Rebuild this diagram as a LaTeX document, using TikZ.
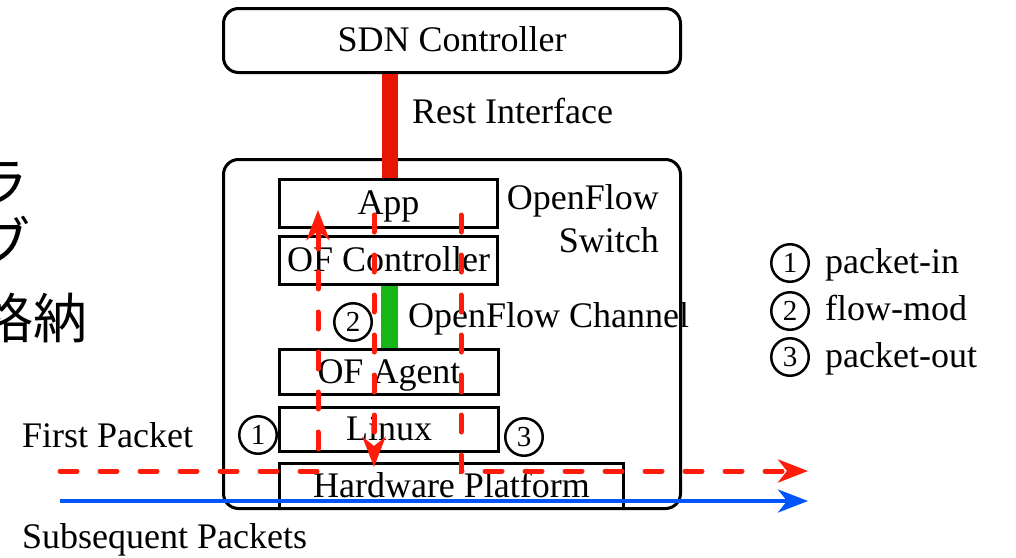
\documentclass[tikz,border=0pt]{standalone}
\usepackage{fontspec}
\setmainfont{Liberation Serif}
\newfontfamily\jpfont{Noto Sans CJK JP}
\usetikzlibrary{arrows.meta,calc}

\definecolor{restred}{RGB}{230,22,0}
\definecolor{pktred}{RGB}{255,28,10}
\definecolor{chgreen}{RGB}{22,182,22}
\definecolor{pktblue}{RGB}{0,85,255}

\tikzset{
  layer/.style={draw, line width=3pt, fill=white, inner sep=0pt,
    text height=26pt, text depth=4pt, font=\fontsize{36}{43}\selectfont},
  roundbox/.style={layer, rounded corners=15pt},
  lbl/.style={inner sep=0pt, anchor=base west, font=\fontsize{36}{43}\selectfont},
  num/.style={circle, draw, line width=2.5pt, minimum size=37.5pt, inner sep=0pt,
    font=\fontsize{29}{29}\selectfont},
  jp/.style={inner sep=0pt, anchor=base east, font=\jpfont\fontsize{54}{60}\selectfont},
  restbar/.style={draw=restred, line width=16pt},
  chbar/.style={draw=chgreen, line width=17pt},
  tip/.style={-{Stealth[length=30pt, width=23pt, inset=9pt]}},
  firstpkt/.style={draw=pktred, line width=5pt, line cap=round,
    dash pattern=on 17pt off 23pt, tip},
  nextpkt/.style={draw=pktblue, line width=4pt, tip},
}

\begin{document}
\begin{tikzpicture}[x=1pt, y=-1pt]
\useasboundingbox (0,0) rectangle (1016,557);
\clip (0,0) rectangle (1016,557);

% text running in from the left edge
\node[jp] (jp1) at (29,202) {ラ};
\node[jp] (jp2) at (31,262) {ブ};
\node[jp] (jp3) at (88,338) {格納};

% controller and switch
\node[roundbox, minimum width=457pt, minimum height=64pt] (sdn) at (452,40.5) {SDN Controller};
\node[roundbox, minimum width=457pt, minimum height=349pt] (sw) at (452,334) {};

% switch software stack
\node[layer, minimum width=218pt, minimum height=48pt] (app) at (388.5,203.5) {App};
\node[layer, minimum width=218pt, minimum height=48pt] (ofc) at (388.5,260.5) {OF Controller};
\node[layer, minimum width=219pt, minimum height=45pt] (ofa) at (389,372) {OF Agent};
\node[layer, minimum width=219pt, minimum height=44pt] (linux) at (389,429.5) {Linux};
\node[layer, minimum width=344pt, minimum height=45pt] (hw) at (451.5,486) {Hardware Platform};

% interfaces
\coordinate (rb) at (390,0);
\coordinate (gb) at (389.5,0);
\draw[restbar] (rb |- sdn.south) -- (rb |- app.north);
\draw[chbar] (gb |- ofc.south) -- (gb |- ofa.north);

% labels
\node[lbl] (rest) at (412,123) {Rest Interface};
\node[lbl] (chan) at (408,327) {OpenFlow Channel};
\node[lbl, anchor=base east, align=right] (swl) at (659,252) {OpenFlow\\Switch};
\node[lbl] (fpl) at (22,447) {First Packet};
\node[lbl] (spl) at (22,548) {Subsequent Packets};

% packet paths
\coordinate (fpin) at (60,471);
\coordinate (pin) at (318,210);
\coordinate (fm1) at (374,215);
\coordinate (fm2) at (374,467);
\coordinate (po1) at (461,215);
\coordinate (po2) at (808,471);
\coordinate (sp1) at (60,501);
\coordinate (sp2) at (808,501);
\draw[firstpkt] (fpin) -| (pin);
\draw[firstpkt] (fm1) -- (fm2);
\draw[firstpkt] (po1) |- (po2);
\draw[nextpkt] (sp1) -- (sp2);

% message markers
\node[num] (c1) at (258,435) {1};
\node[num] (c2) at (353,322) {2};
\node[num] (c3) at (524,437) {3};

% legend
\node[num] (l1) at (790,263) {1};
\node[num] (l2) at (790,311) {2};
\node[num] (l3) at (790,357) {3};
\node[lbl] (t1) at (825,273) {packet-in};
\node[lbl] (t2) at (825,320) {flow-mod};
\node[lbl] (t3) at (825,367) {packet-out};
\end{tikzpicture}
\end{document}
